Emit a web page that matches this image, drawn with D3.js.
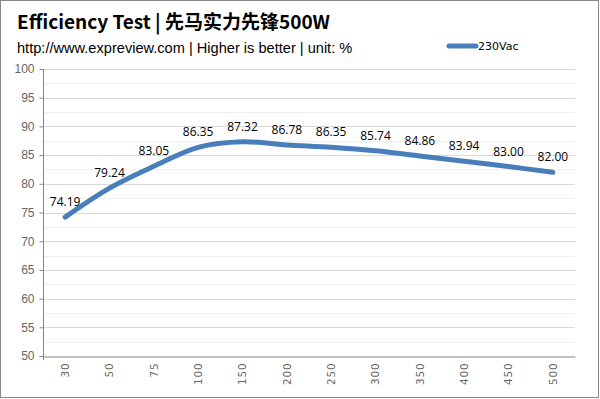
<!DOCTYPE html>
<html>
<head>
<meta charset="utf-8">
<script src="https://cdn.jsdelivr.net/npm/d3@7"></script>
<style>
  body { margin: 0; background: #fff; }
  svg { display: block; }
</style>
</head>
<body>
<script>
var width = 600;
var height = 399;

// data
var loads = ["30", "50", "75", "100", "150", "200", "250", "300", "350", "400", "450", "500"];
var eff230 = [74.19, 79.24, 83.05, 86.35, 87.32, 86.78, 86.35, 85.74, 84.86, 83.94, 83.00, 82.00];
var yTicks = [50, 55, 60, 65, 70, 75, 80, 85, 90, 95, 100];
var seriesName = "230Vac";

var margin = {left: 43, right: 25, top: 69, bottom: 43};

var svg = d3.select("body")
    .append("svg")
    .attr("width", width)
    .attr("height", height);

// outer frame
svg.append("rect")
    .attr("x", 0.5).attr("y", 0.5)
    .attr("width", width - 2).attr("height", height - 2)
    .attr("fill", "#fff")
    .attr("stroke", "#888");

var x = d3.scaleBand()
    .domain(loads)
    .range([margin.left, width - margin.right]);

var y = d3.scaleLinear()
    .domain([50, 100])
    .range([height - margin.bottom, margin.top]);

// minor grid (every 2.5)
svg.append("g")
    .selectAll("line")
    .data(d3.range(52.5, 100, 5))
    .enter()
    .append("line")
    .attr("x1", margin.left).attr("x2", width - margin.right)
    .attr("y1", function(d) { return Math.round(y(d)) + 0.5; })
    .attr("y2", function(d) { return Math.round(y(d)) + 0.5; })
    .attr("stroke", "#efefef");

// major grid
svg.append("g")
    .selectAll("line")
    .data(yTicks.slice(1))
    .enter()
    .append("line")
    .attr("x1", margin.left).attr("x2", width - margin.right)
    .attr("y1", function(d) { return Math.round(y(d)) + 0.5; })
    .attr("y2", function(d) { return Math.round(y(d)) + 0.5; })
    .attr("stroke", "#d9d9d9");

// y axis
var yAxis = svg.append("g")
    .attr("transform", "translate(" + (margin.left + 0.5) + ",0)")
    .call(d3.axisLeft(y).tickValues(yTicks).tickSize(4).tickPadding(5));
yAxis.select(".domain").attr("stroke", "#868686").attr("d", "M0," + y(100) + "V" + (y(50) + 4));
yAxis.selectAll(".tick line").attr("stroke", "#868686");
yAxis.selectAll("text")
    .attr("fill", "#666")
    .attr("font-size", "12px")
    .attr("font-family", "Liberation Sans, Arial, sans-serif");

// x axis
var xAxis = svg.append("g")
    .attr("transform", "translate(0," + (Math.round(y(50)) + 0.5) + ")")
    .call(d3.axisBottom(x).tickSize(0).tickPadding(0));
xAxis.select(".domain").attr("stroke", "#868686");
xAxis.selectAll("text")
    .attr("fill", "#666")
    .attr("font-size", "10.5px")
    .attr("letter-spacing", "0.8px")
    .attr("font-family", "DejaVu Sans, sans-serif")
    .attr("text-anchor", "end")
    .attr("transform", "rotate(-90)")
    .attr("x", -6)
    .attr("y", 0)
    .attr("dy", "0.35em");

// line
var line = d3.line()
    .x(function(d, i) { return x(loads[i]) + x.bandwidth() / 2; })
    .y(function(d) { return y(d); })
    .curve(d3.curveCatmullRom.alpha(0.5));

svg.append("path")
    .datum(eff230)
    .attr("d", line)
    .attr("fill", "none")
    .attr("stroke", "#4a7ebb")
    .attr("stroke-width", 5)
    .attr("stroke-linecap", "round")
    .attr("stroke-linejoin", "round");

// value labels
svg.append("g")
    .selectAll("text")
    .data(eff230)
    .enter()
    .append("text")
    .attr("x", function(d, i) { return x(loads[i]) + x.bandwidth() / 2; })
    .attr("y", function(d) { return y(d) - 11; })
    .attr("text-anchor", "middle")
    .attr("font-size", "12px")
    .attr("font-family", "Open Sans, sans-serif")
    .attr("fill", "#000")
    .text(function(d) { return d.toFixed(2); });

// title
svg.append("text")
    .attr("x", 17).attr("y", 29)
    .attr("font-size", "19px")
    .attr("font-weight", "bold")
    .attr("font-family", "Noto Sans CJK SC, sans-serif")
    .text("Efficiency Test | 先马实力先锋500W");

svg.append("text")
    .attr("x", 17).attr("y", 53)
    .attr("font-size", "14.6px")
    .attr("font-family", "Liberation Sans, Arial, sans-serif")
    .text("http://www.expreview.com | Higher is better | unit: %");

// legend
svg.append("line")
    .attr("x1", 449).attr("x2", 476)
    .attr("y1", 46).attr("y2", 46)
    .attr("stroke", "#4a7ebb")
    .attr("stroke-width", 5)
    .attr("stroke-linecap", "round");

svg.append("text")
    .attr("x", 478).attr("y", 50)
    .attr("font-size", "11px")
    .attr("font-family", "DejaVu Sans, sans-serif")
    .text(seriesName);
</script>
</body>
</html>
